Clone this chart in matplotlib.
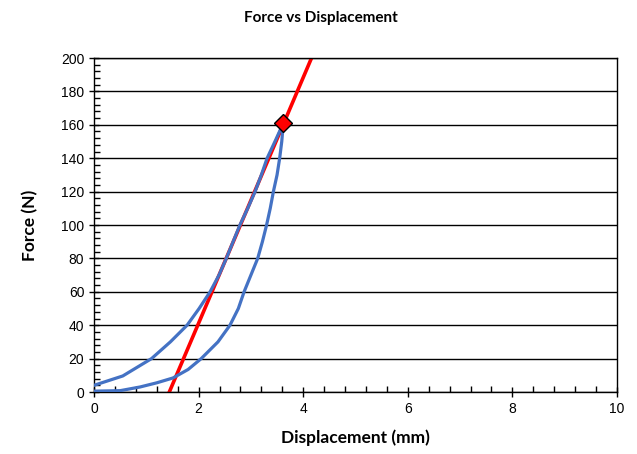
import matplotlib
matplotlib.use("Agg")
import matplotlib.pyplot as plt
from matplotlib.ticker import MultipleLocator

# Loading curve (lower branch)
load_x = [0.0, 0.5, 0.88, 1.2, 1.51, 1.80, 2.05, 2.37, 2.60, 2.76, 2.87, 3.00, 3.13,
          3.22, 3.30, 3.37, 3.43, 3.50, 3.55, 3.59, 3.62]
load_y = [0.5, 0.8, 3.0, 5.5, 8.4, 13.5, 20.0, 30.0, 40.0, 50.0, 60.0, 70.0, 80.0,
          90.0, 100.0, 110.0, 120.0, 130.0, 140.0, 150.0, 161.0]
# Unloading curve (upper branch)
unload_x = [3.62, 3.46, 3.31, 3.20, 3.08, 2.94, 2.79, 2.66, 2.53, 2.39, 2.22, 2.01,
            1.78, 1.46, 1.1, 0.55, 0.0]
unload_y = [161.0, 150.0, 140.0, 130.0, 120.0, 110.0, 100.0, 90.0, 80.0, 70.0, 60.0,
            50.0, 40.0, 30.0, 20.0, 9.6, 4.0]
# Fitted stiffness line
fit_x = [1.44, 4.2]
fit_y = [0.0, 203.0]
# Peak point
peak_x = [3.62]
peak_y = [161.0]

fig = plt.figure(figsize=(6.37, 4.54), dpi=100)
ax = fig.add_axes([94/637, 1-392/454, (617-94)/637, (392-58)/454])

ax.plot(load_x, load_y, color="#4472C4", lw=2.3, zorder=3, solid_joinstyle="round")
ax.plot(unload_x, unload_y, color="#4472C4", lw=2.3, zorder=3, solid_joinstyle="round")
ax.plot(fit_x, fit_y, color="#FF0000", lw=2.6, zorder=2)
ax.plot(peak_x, peak_y, marker="D", color="#FF0000", markeredgecolor="black",
        markersize=9, markeredgewidth=1, linestyle="none", zorder=5)

ax.set_xlim(0, 10)
ax.set_ylim(0, 200)
ax.xaxis.set_major_locator(MultipleLocator(2))
ax.xaxis.set_minor_locator(MultipleLocator(0.4))
ax.yaxis.set_major_locator(MultipleLocator(20))
ax.yaxis.set_minor_locator(MultipleLocator(4))
ax.yaxis.grid(True, which="major", color="black", lw=1.0)
ax.set_axisbelow(True)
for s in ax.spines.values():
    s.set_color("black")
    s.set_linewidth(1.0)

ax.tick_params(which="major", direction="inout", length=7, width=1, colors="black",
               labelsize=10)
ax.tick_params(which="minor", direction="in", length=4, width=1, colors="black")
for lab in ax.get_xticklabels() + ax.get_yticklabels():
    lab.set_fontfamily("Liberation Sans")

ax.set_xlabel("Displacement (mm)", fontsize=12.5, fontweight="bold", family="Lato", labelpad=10)
ax.set_ylabel("Force (N)", fontsize=12.5, fontweight="bold", family="Lato", labelpad=16)
fig.text(321/637, 1-18/454, "Force vs Displacement", fontsize=11, fontweight="bold",
         family="Lato", ha="center", va="center")

fig.savefig("out.png", dpi=100)
